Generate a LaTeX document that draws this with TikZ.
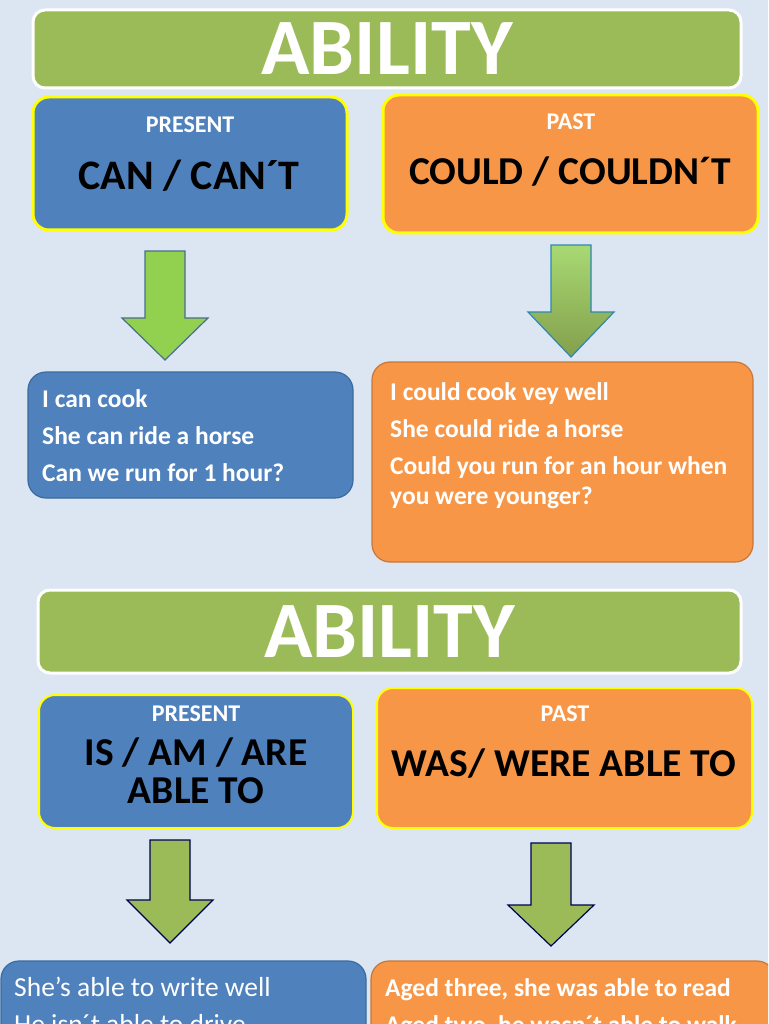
\documentclass[tikz,border=0pt]{standalone}
\usepackage{fontspec}
\setmainfont{Carlito}
\usetikzlibrary{calc}

\definecolor{bgblue}{HTML}{DCE6F2}
\definecolor{titlegreen}{HTML}{9BBB59}
\definecolor{presblue}{HTML}{4F81BD}
\definecolor{presedge}{HTML}{3A6A9E}
\definecolor{pastorange}{HTML}{F79646}
\definecolor{pastedge}{HTML}{C8773A}
\definecolor{hiyellow}{HTML}{FFFF00}
\definecolor{arrowgreen}{HTML}{92D050}
\definecolor{arrowedge}{HTML}{4A6F8A}

% block arrow pointing down: style, centre x, top, head top, tip
\newcommand{\downblock}[5]{%
  \draw[#1] (#2-20,#3) -- (#2+20,#3) -- (#2+20,#4) -- (#2+43,#4)
    -- (#2,#5) -- (#2-43,#4) -- (#2-20,#4) -- cycle;}

\begin{document}
\begin{tikzpicture}[
  x=1pt, y=-1pt,
  titlebox/.style={draw=white, line width=3pt, fill=titlegreen, rounded corners=12pt,
                   text=white, font=\fontsize{80}{80}\selectfont\bfseries},
  tensebox/.style={draw=hiyellow, line width=3pt, rounded corners=16pt},
  tag/.style={text=white, font=\fontsize{24}{24}\selectfont\bfseries},
  form/.style={text=black, font=\fontsize{39.5}{38}\selectfont\bfseries, align=center},
  exbox/.style={line width=1.2pt, rounded corners=18pt},
  extext/.style={text=white, font=\fontsize{25.5}{30}\selectfont\bfseries,
                 align=left, anchor=north west, inner sep=0pt},
  lowtext/.style={text=white, font=\fontsize{27.5}{37}\selectfont,
                  align=left, anchor=north west, inner sep=0pt},
  blockarrow/.style={fill=arrowgreen, draw=arrowedge, line width=1.2pt, line join=miter}
]

% ===== Canvas =====
\useasboundingbox (0,0) rectangle (768,1024);
\clip (0,0) rectangle (768,1024);
\fill[bgblue] (0,0) rectangle (768,1024);

% ===== Part 1: can / could =====
\node[titlebox, minimum width=708pt, minimum height=78pt] (title1) at (387,49) {ABILITY};

\node[tensebox, fill=presblue, minimum width=314pt, minimum height=133pt] (pres1) at (190,163.5) {};
\node[tag] (prestag1) at (190,125) {PRESENT};
\node[form, font=\fontsize{42}{40}\selectfont\bfseries] (presform1) at (189,176) {CAN / CAN´T};

\node[tensebox, fill=pastorange, minimum width=375pt, minimum height=138pt] (past1) at (570.5,164) {};
\node[tag] (pasttag1) at (571,122) {PAST};
\node[form] (pastform1) at (570,172) {COULD / COULDN´T};

\downblock{blockarrow}{165}{251}{318}{360}
\downblock{blockarrow, draw=presedge!80!cyan, top color=arrowgreen!80!white, bottom color=titlegreen!85!black}{571}{245}{312}{357}

\node[exbox, fill=presblue, draw=presedge, minimum width=325pt, minimum height=126pt] (presex1) at (190.5,435) {};
\node[extext] (presline1) at (42,389) {I can cook\\[7pt]She can ride a horse\\[7pt]Can we run for 1 hour?};

\node[exbox, fill=pastorange, draw=pastedge, minimum width=381pt, minimum height=200pt] (pastex1) at (562.5,462) {};
\node[extext] (pastline1) at (390,382) {I could cook vey well\\[7pt]She could ride a horse\\[7pt]Could you run for an hour when\\you were younger?};

% ===== Part 2: be able to =====
\node[titlebox, minimum width=703pt, minimum height=83pt] (title2) at (389.5,631.5) {ABILITY};

\node[tensebox, line width=2pt, fill=presblue, minimum width=314pt, minimum height=133pt] (pres2) at (196,761.5) {};
\node[tag] (prestag2) at (196,714) {PRESENT};
\node[form] (presform2) at (196,771) {IS / AM / ARE\\ABLE TO};

\node[tensebox, line width=2pt, fill=pastorange, minimum width=375pt, minimum height=140pt] (past2) at (564.5,758) {};
\node[tag] (pasttag2) at (565,714) {PAST};
\node[form] (pastform2) at (564,764) {WAS/ WERE ABLE TO};

\downblock{blockarrow, fill=titlegreen, draw=black!20!blue!40!black}{170}{840}{900}{943}
\downblock{blockarrow, fill=titlegreen, draw=black!20!blue!40!black}{551}{843}{905}{946}

\node[exbox, fill=presblue, draw=presedge, minimum width=365pt, minimum height=110pt] (presex2) at (183.5,1016) {};
\node[lowtext] (presline2) at (14,977) {She’s able to write well\\He isn´t able to drive};

\node[exbox, fill=pastorange, draw=pastedge, minimum width=404pt, minimum height=110pt] (pastex2) at (573,1016) {};
\node[lowtext, font=\fontsize{25.5}{37}\selectfont\bfseries] (pastline2) at (385,978) {Aged three, she was able to read\\Aged two, he wasn´t able to walk};
\end{tikzpicture}
\end{document}
